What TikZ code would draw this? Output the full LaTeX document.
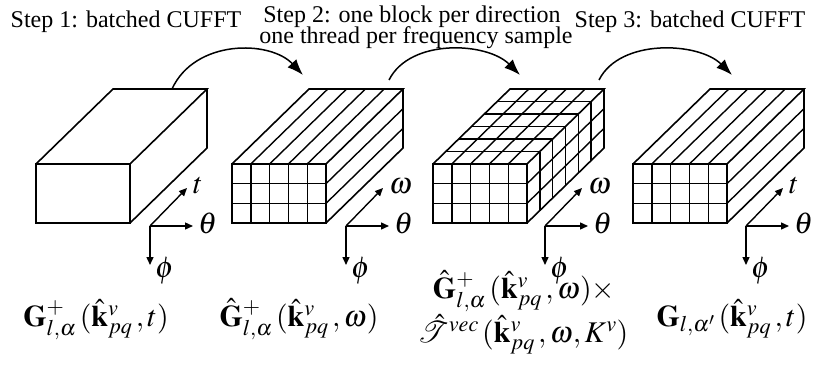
\documentclass[tikz,border=0pt]{standalone}
\usepackage{mathptmx}
\usepackage{fontspec}
\setmainfont{Liberation Serif}
\usetikzlibrary{arrows.meta}
\newcommand{\eqsz}{\fontsize{30}{36}\selectfont}
\newcommand{\stepsz}{\fontsize{24}{28}\selectfont}
\begin{document}
\begin{tikzpicture}[x=1pt,y=-1pt,
  boxline/.style={line width=1.6pt, line join=miter},
  gridline/.style={line width=1.4pt},
  flow/.style={line width=1.5pt, -{Latex[length=16pt,width=12pt]}},
  axis/.style={line width=1.4pt, -{Triangle[length=8pt,width=7pt]}},
  steptext/.style={font=\stepsz, inner sep=0pt, anchor=base},
  eq/.style={font=\eqsz, inner sep=0pt, anchor=base},
  axlab/.style={font=\eqsz, inner sep=0pt}]
\useasboundingbox (0,0) rectangle (814,367);

% step texts
\node[steptext] (s1) at (126,27) {Step 1: batched CUFFT};
\node[steptext] (s2a) at (412,22) {Step 2: one block per direction};
\node[steptext] (s2b) at (416,43) {one thread per frequency sample};
\node[steptext] (s3) at (690,27) {Step 3: batched CUFFT};

% boxes: front 94x59 at (x0,164), depth offset (77,-75)
\foreach \x/\kind in {36/0, 232/1, 433/2, 633/1}{
  \begin{scope}[shift={(\x,0)}]
    \ifnum\kind>0
      \foreach \i in {1,...,4}{
        \draw[gridline] ({\i*18.8},164) -- ({\i*18.8},223);
        \draw[gridline] ({\i*18.8},164) -- ({\i*18.8+77},89);
      }
      \foreach \j in {1,2}{
        \draw[gridline] (0,{164+\j*59/3}) -- (94,{164+\j*59/3});
        \draw[gridline] (94,{164+\j*59/3}) -- (171,{89+\j*59/3});
      }
    \fi
    \ifnum\kind>1
      \foreach \k in {1,...,5}{
        \draw[gridline] ({\k*77/6},{164-\k*75/6}) -- ({94+\k*77/6},{164-\k*75/6});
        \draw[gridline] ({94+\k*77/6},{164-\k*75/6}) -- ({94+\k*77/6},{223-\k*75/6});
      }
    \fi
    \draw[boxline] (0,164) rectangle (94,223);
    \draw[boxline] (0,164) -- (77,89) -- (171,89) -- (94,164);
    \draw[boxline] (171,89) -- (171,148) -- (94,223);
  \end{scope}
}

% axes
\foreach \n/\x/\lab in {1/150/t, 2/346/\omega, 3/545/\omega, 4/746/t}{
  \coordinate (o\n) at (\x,226);
  \coordinate (d\n) at (\x+37,188);
  \coordinate (h\n) at (\x+43,226);
  \coordinate (v\n) at (\x,265);
  \draw[axis] (o\n) -- (d\n);
  \draw[axis] (o\n) -- (h\n);
  \draw[axis] (o\n) -- (v\n);
  \node[axlab, anchor=west] (dl\n) at ([xshift=6pt,yshift=2pt]d\n) {$\lab$};
  \node[axlab, anchor=west] (hl\n) at ([xshift=5pt,yshift=3pt]h\n) {$\theta$};
  \node[axlab, anchor=west] (vl\n) at ([xshift=5pt,yshift=-6pt]v\n) {$\phi$};
}

% curved arrows
\coordinate (a1s) at (172,89);  \coordinate (a1e) at (303,75);
\coordinate (a2s) at (389,80);  \coordinate (a2e) at (520,75);
\coordinate (a3s) at (599,80);  \coordinate (a3e) at (732,75);
\draw[flow] (a1s) .. controls (195,39) and (270,40) .. (a1e);
\draw[flow] (a2s) .. controls (410,38) and (487,42) .. (a2e);
\draw[flow] (a3s) .. controls (620,38) and (699,42) .. (a3e);

% labels
\node[eq] (L1) at (96,326) {$\mathbf{G}^{+}_{l,\alpha}\,(\hat{\mathbf{k}}^{v}_{pq}\,,t)$};
\node[eq] (L2) at (299,326) {$\hat{\mathbf{G}}^{+}_{l,\alpha}\,(\hat{\mathbf{k}}^{v}_{pq}\,,\omega)$};
\node[eq] (L3a) at (524,298) {$\hat{\mathbf{G}}^{+}_{l,\alpha}\,(\hat{\mathbf{k}}^{v}_{pq}\,,\omega)\times$};
\node[eq] (L3b) at (523,342) {$\hat{\mathcal{T}}^{vec}\,(\hat{\mathbf{k}}^{v}_{pq}\,,\omega,K^{v})$};
\node[eq] (L4) at (732,326) {$\mathbf{G}_{l,\alpha'}\,(\hat{\mathbf{k}}^{v}_{pq}\,,t)$};
\end{tikzpicture}
\end{document}
